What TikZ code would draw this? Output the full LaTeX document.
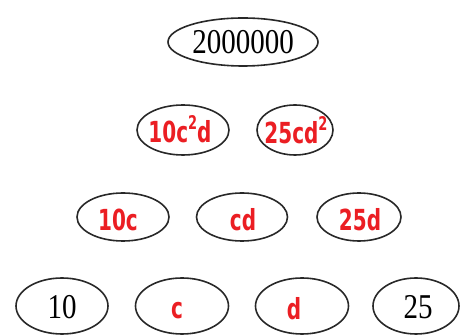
\documentclass[tikz,border=0pt]{standalone}
\usepackage{fontspec}
\setmainfont{Liberation Serif}
\newfontfamily\hand{DejaVu Sans}
\usetikzlibrary{shapes.geometric}
\definecolor{hred}{RGB}{235,30,35}
\definecolor{edge}{RGB}{40,40,40}
\newcommand{\tall}[1]{\scalebox{1}[1.45]{#1}}
\tikzset{
  oval/.style={ellipse, draw=edge, line width=1.6pt, inner sep=0pt},
  num/.style={font=\fontsize{29}{29}\selectfont},
  hw/.style={text=hred, font=\hand\bfseries\fontsize{20}{20}\selectfont}
}
\begin{document}
\begin{tikzpicture}[x=1pt,y=-1pt]
\useasboundingbox (0,0) rectangle (461,336);
% row 1
\node[oval, minimum width=150, minimum height=48] (top) at (243,42) {};
\node[num] (topt) at (243,42) {\scalebox{1}[1.2]{2000000}};
% row 2
\node[oval, minimum width=92, minimum height=50] (a) at (183,130) {};
\node[hw] (at) at (180,129) {\tall{10c\raisebox{0.45em}{\fontsize{13}{13}\selectfont 2}d}};
\node[oval, minimum width=76, minimum height=50] (b) at (295,130) {};
\node[hw] (bt) at (296,130) {\tall{25cd\raisebox{0.45em}{\fontsize{13}{13}\selectfont 2}}};
% row 3
\node[oval, minimum width=92, minimum height=48] (c) at (123,217) {};
\node[hw] (ct) at (118,220) {\tall{10c}};
\node[oval, minimum width=91, minimum height=48] (d) at (242,217) {};
\node[hw] (dt) at (243,220) {\tall{cd}};
\node[oval, minimum width=84, minimum height=48] (e) at (359,217) {};
\node[hw] (et) at (360,220) {\tall{25d}};
% row 4
\node[oval, minimum width=92, minimum height=56] (f) at (62,306) {};
\node[num] (ft) at (62,307) {\scalebox{1}[1.2]{10}};
\node[oval, minimum width=93, minimum height=56] (g) at (182,306) {};
\node[hw] (gt) at (177,311) {\tall{c}};
\node[oval, minimum width=93, minimum height=56] (h) at (302,306) {};
\node[hw] (ht) at (294,309) {\tall{d}};
\node[oval, minimum width=86, minimum height=56] (i) at (416,306) {};
\node[num] (it) at (418,307) {\scalebox{1}[1.2]{25}};
\end{tikzpicture}
\end{document}
